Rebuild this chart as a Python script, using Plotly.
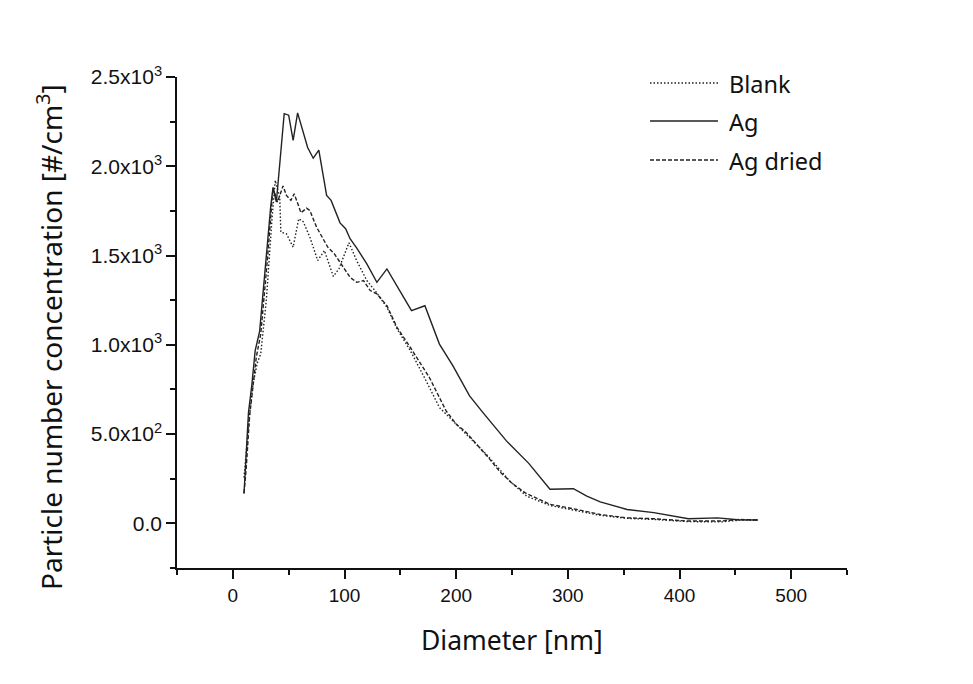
import plotly.graph_objects as go

# ---- data ----
blank_x = [10, 12, 15, 18, 22, 25, 30, 35, 38, 42, 43, 48, 54, 59, 63, 69, 76, 82, 90, 95,
           104, 111, 120, 129, 138, 147, 159, 173, 185, 194, 206, 227, 248, 263, 284, 308,
           329, 353, 377, 407, 437, 454, 470]
blank_y = [256, 406, 612, 780, 900, 950, 1250, 1700, 1921, 1827, 1631, 1622, 1547, 1706, 1690,
           1603, 1472, 1528, 1383, 1425, 1572, 1470, 1360, 1290, 1210, 1090, 967, 799, 649, 593,
           518, 387, 237, 153, 100, 72, 45, 28, 22, 10, 8, 18, 19]

ag_x = [10, 11, 14, 17, 20, 24, 27, 30, 34, 36, 39, 46, 50, 54, 58, 67, 72, 77, 84, 88, 96,
        101, 105, 111, 120, 129, 138, 153, 160, 172, 185, 197, 212, 224, 245, 265, 284, 305,
        317, 329, 353, 377, 408, 434, 452, 470]
ag_y = [166, 300, 620, 775, 967, 1075, 1285, 1528, 1780, 1880, 1800, 2295, 2286, 2145, 2299,
        2105, 2045, 2090, 1837, 1809, 1683, 1650, 1594, 1542, 1453, 1350, 1425, 1266, 1191,
        1219, 1004, 883, 714, 620, 462, 336, 191, 194, 153, 120, 78, 60, 26, 31, 20, 19]

agd_x = [10, 12, 15, 18, 21, 25, 28, 31, 36, 40, 45, 48, 52, 55, 61, 66, 69, 75, 85, 91, 99,
         105, 111, 117, 123, 129, 138, 147, 159, 176, 191, 200, 209, 221, 230, 239, 250, 262,
         284, 308, 329, 353, 377, 407, 437, 454, 470]
agd_y = [170, 310, 600, 760, 930, 1060, 1250, 1480, 1880, 1800, 1890, 1837, 1809, 1846, 1740,
         1765, 1752, 1659, 1547, 1509, 1434, 1378, 1350, 1360, 1304, 1285, 1219, 1098, 985,
         817, 630, 556, 509, 424, 360, 290, 225, 170, 107, 78, 50, 31, 26, 13, 13, 22, 19]

series_names = ["Blank", "Ag", "Ag dried"]
series_dash = ["1.5px,2px", "solid", "4px,2px"]

y_tickvals = [0, 500, 1000, 1500, 2000, 2500]
y_ticktext = ["0.0", "5.0x10<sup>2</sup>", "1.0x10<sup>3</sup>", "1.5x10<sup>3</sup>",
              "2.0x10<sup>3</sup>", "2.5x10<sup>3</sup>"]
x_tickvals = [0, 100, 200, 300, 400, 500]

line_color = "#222222"
xtick_font = dict(family="Liberation Sans, Arial", size=19, color="#111")
ytick_font = dict(family="Liberation Sans, Arial", size=21, color="#111")
xtitle_font = dict(family="Noto Sans, Open Sans", size=26.5, color="#111")
ytitle_font = dict(family="Noto Sans, Open Sans", size=28, color="#111")
legend_font = dict(family="Noto Sans, Open Sans", size=23.5, color="#111")

fig = go.Figure()
for xs, ys, name, dash in [(blank_x, blank_y, series_names[0], series_dash[0]),
                           (ag_x, ag_y, series_names[1], series_dash[1]),
                           (agd_x, agd_y, series_names[2], series_dash[2])]:
    fig.add_trace(go.Scatter(x=xs, y=ys, mode="lines", name=name, showlegend=False,
                             line=dict(color=line_color, width=1.4, dash=dash)))

L, R, T, B = 177, 126, 77, 116
W, H = 973, 684
pw, ph = W - L - R, H - T - B

def px_x(p):
    return (p - L) / pw

def px_y(p):
    return (H - B - p) / ph

# custom legend (long line samples like the reference)
legend_rows = [83, 121, 160]
for name, dash, yy in zip(series_names, series_dash, legend_rows):
    fig.add_shape(type="line", xref="paper", yref="paper",
                  x0=px_x(650), x1=px_x(718), y0=px_y(yy), y1=px_y(yy),
                  line=dict(color=line_color, width=1.4, dash=dash))
    fig.add_annotation(xref="paper", yref="paper", x=px_x(727), y=px_y(yy + 1),
                       text=name, showarrow=False, xanchor="left", yanchor="middle",
                       font=legend_font)

fig.add_annotation(xref="paper", yref="paper", x=px_x(512), y=px_y(640),
                   text="Diameter [nm]", showarrow=False, xanchor="center",
                   yanchor="middle", font=xtitle_font)
fig.add_annotation(xref="paper", yref="paper", x=px_x(49), y=px_y(337),
                   text="Particle number concentration [#/cm<sup>3</sup>]", showarrow=False,
                   textangle=-90, xanchor="center", yanchor="middle", font=ytitle_font)

fig.update_layout(
    width=W, height=H,
    margin=dict(l=L, r=R, t=T, b=B),
    paper_bgcolor="white", plot_bgcolor="white",
    xaxis=dict(range=[-50, 550], tickvals=x_tickvals, ticks="outside", ticklen=9,
               tickwidth=1.5, tickcolor="#111", showline=True, linecolor="#111",
               linewidth=1.5, showgrid=False, zeroline=False, tickfont=xtick_font,
               minor=dict(dtick=50, tick0=0, ticks="outside", ticklen=5, tickwidth=1.5,
                          tickcolor="#111", showgrid=False)),
    yaxis=dict(range=[-250, 2500], tickvals=y_tickvals, ticktext=y_ticktext,
               ticks="outside", ticklen=9, tickwidth=1.5, tickcolor="#111",
               showline=True, linecolor="#111", linewidth=1.5, showgrid=False,
               zeroline=False, tickfont=ytick_font,
               minor=dict(dtick=250, tick0=0, ticks="outside", ticklen=5, tickwidth=1.5,
                          tickcolor="#111", showgrid=False)),
)

fig.write_html("out.html")
